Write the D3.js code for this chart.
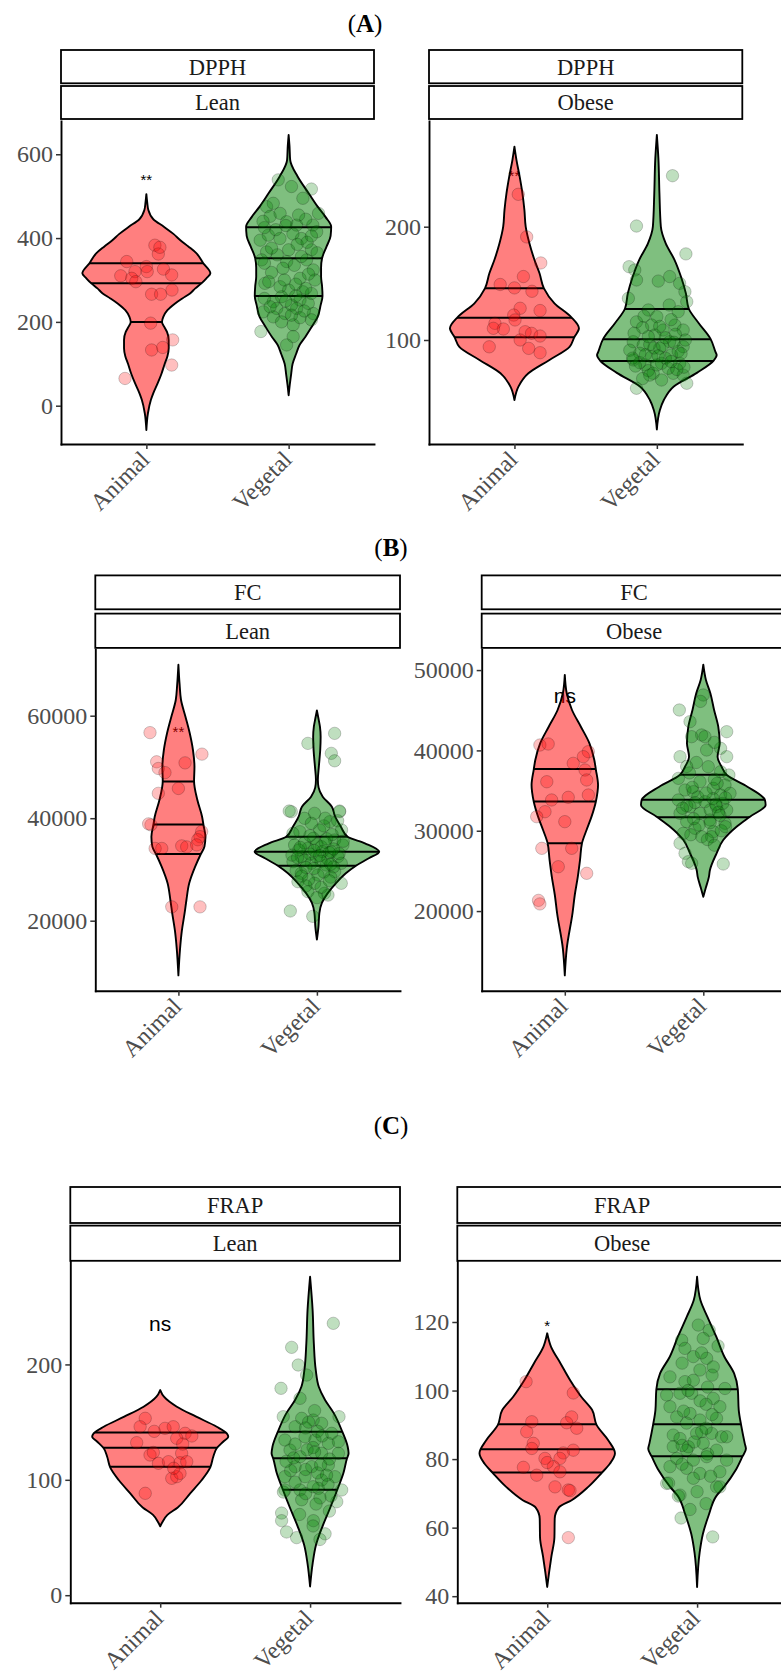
<!DOCTYPE html>
<html><head><meta charset="utf-8">
<script src="https://cdn.jsdelivr.net/npm/d3@7"></script>
<style>body{margin:0;background:#fff}</style>
</head><body>
<svg id="chart" width="781" height="1673"></svg>
<script>
// ---------------- DATA ----------------
const categories = ["Animal", "Vegetal"];
const assays = ["DPPH", "FC", "FRAP"];
const groups = ["Lean", "Obese"];
const panelLetters = ["A", "B", "C"];

const dpphLeanDomain = [-91.4, 679.4],  dpphLeanTicks = [0, 200, 400, 600];
const dpphObeseDomain = [8.2, 293.3],   dpphObeseTicks = [100, 200];
const fcLeanDomain = [6341, 72956],     fcLeanTicks = [20000, 40000, 60000];
const fcObeseDomain = [10086, 52586],   fcObeseTicks = [20000, 30000, 40000, 50000];
const frapLeanDomain = [-6.5, 289.2],   frapLeanTicks = [0, 100, 200];
const frapObeseDomain = [38.1, 137.65], frapObeseTicks = [40, 60, 80, 100, 120];

const sigLabels = [["**", 548], ["**", 247.7], ["**", 57540], ["ns", 46610], ["ns", 233.5], ["*", 119.8]];

const dpphLeanAnimalViolin = [[505,0],[485,0.006],[467,0.014],[445,0.049],[427,0.123],[410,0.19],[395,0.239],[380,0.295],[364,0.351],[340,0.40],[316,0.45],[304,0.422],[292,0.387],[280,0.344],[268,0.307],[256,0.253],[244,0.202],[228,0.148],[212,0.119],[200,0.11],[188,0.126],[176,0.145],[157,0.157],[137,0.157],[118,0.148],[100,0.129],[75,0.105],[53,0.079],[30,0.049],[14,0.032],[-18,0.011],[-58,0]];
const dpphLeanVegetalViolin = [[646,0],[620,0.006],[586,0.011],[547,0.063],[507,0.141],[475,0.204],[450,0.26],[427,0.299],[405,0.295],[380,0.267],[352,0.235],[330,0.228],[308,0.228],[285,0.235],[262,0.238],[240,0.225],[212,0.204],[188,0.162],[164,0.117],[145,0.077],[124,0.053],[100,0.028],[76,0.018],[50,0.008],[25,0]];
const dpphObeseAnimalViolin = [[270.6,0],[259,0.014],[244,0.037],[229.5,0.056],[214.7,0.07],[200,0.079],[185.3,0.105],[170.6,0.141],[158.9,0.176],[145.6,0.207],[132.4,0.281],[120,0.40],[110.3,0.453],[102.4,0.42],[94,0.387],[82.4,0.246],[70.6,0.098],[58.8,0.028],[47,0]];
const dpphObeseVegetalViolin = [[281,0],[260,0.011],[230,0.018],[200,0.028],[185,0.063],[171,0.123],[156,0.169],[141,0.204],[128,0.223],[115,0.293],[101,0.377],[89,0.413],[86.8,0.42],[82,0.40],[71,0.281],[59,0.119],[47,0.049],[38,0.021],[21,0]];
const fcLeanAnimalViolin = [[69950,0],[66000,0.009],[63060,0.019],[59805,0.051],[56560,0.082],[53307,0.105],[50050,0.116],[47260,0.113],[43550,0.137],[40290,0.171],[38670,0.181],[36390,0.195],[34440,0.188],[33010,0.162],[30540,0.121],[27290,0.078],[24040,0.058],[21526,0.045],[18056,0.025],[14566,0.012],[9340,0]];
const fcLeanVegetalViolin = [[61020,0],[59500,0.011],[57855,0.022],[55903,0.027],[53307,0.024],[50050,0.014],[47500,0.007],[46000,0.012],[44195,0.042],[42244,0.108],[40290,0.132],[38340,0.173],[36390,0.222],[35100,0.347],[33460,0.45],[32175,0.375],[30730,0.282],[29250,0.209],[27290,0.137],[25340,0.077],[23500,0.036],[21526,0.018],[18750,0.011],[16300,0]];
const fcObeseAnimalViolin = [[49400,0],[47108,0.014],[45030,0.052],[42950,0.116],[40880,0.178],[38800,0.213],[37650,0.224],[35690,0.24],[33610,0.224],[31750,0.193],[30090,0.157],[28440,0.124],[26360,0.11],[24280,0.094],[22000,0.072],[19773,0.056],[15333,0.014],[12000,0]];
const fcObeseVegetalViolin = [[50670,0],[48764,0.019],[47108,0.051],[45030,0.078],[42950,0.108],[40880,0.118],[39216,0.103],[37970,0.132],[36936,0.17],[35480,0.318],[33826,0.445],[33200,0.45],[31750,0.337],[30500,0.24],[28840,0.144],[27190,0.096],[25110,0.048],[24227,0.04],[22890,0.018],[21773,0]];
const frapLeanAnimalViolin = [[177.8,0],[172,0.025],[163.3,0.111],[154.7,0.24],[146,0.377],[140.3,0.444],[137.3,0.454],[133,0.42],[127.3,0.377],[120,0.354],[110.8,0.334],[99.8,0.277],[88.3,0.2],[76,0.117],[69.6,0.048],[63,0.013],[59.7,0]];
const frapLeanVegetalViolin = [[276,0],[247,0.017],[218.3,0.025],[195,0.038],[180.7,0.058],[169.2,0.1],[157.6,0.159],[141.7,0.215],[128.7,0.251],[123,0.257],[118,0.245],[105.6,0.222],[91.2,0.181],[76,0.135],[59.7,0.083],[43.3,0.039],[27.3,0.017],[7.6,0]];
const frapObeseAnimalViolin = [[116.7,0],[112.8,0.025],[107.9,0.089],[103,0.153],[98.2,0.227],[94.3,0.3],[89.9,0.33],[85.5,0.407],[81.7,0.452],[78.7,0.419],[76,0.364],[71.9,0.274],[68,0.163],[65.9,0.078],[62.6,0.05],[57.1,0.048],[51.6,0.028],[47.1,0.013],[42.7,0]];
const frapObeseVegetalViolin = [[133.2,0],[126.4,0.022],[121.5,0.069],[115.7,0.128],[109.8,0.183],[105,0.247],[100.3,0.272],[94.3,0.278],[89.9,0.294],[84.6,0.318],[83,0.326],[80.7,0.302],[76.8,0.258],[71.9,0.18],[69.2,0.128],[63.7,0.078],[58.2,0.039],[52.7,0.017],[42.7,0]];

const dpphLeanAnimalQuartiles = [200, 292, 340];
const dpphLeanVegetalQuartiles = [262, 352, 426];
const dpphObeseAnimalQuartiles = [102.4, 119.7, 145.6];
const dpphObeseVegetalQuartiles = [81.5, 100.6, 127.4];
const fcLeanAnimalQuartiles = [33020, 38750, 47170];
const fcLeanVegetalQuartiles = [30720, 33440, 36370];
const fcObeseAnimalQuartiles = [28440, 33640, 37690];
const fcObeseVegetalQuartiles = [31690, 33870, 36980];
const frapLeanAnimalQuartiles = [111.4, 127.8, 140.9];
const frapLeanVegetalQuartiles = [91.4, 118.7, 141.6];
const frapObeseAnimalQuartiles = [76.1, 82.9, 90.2];
const frapObeseVegetalQuartiles = [80.8, 90.2, 100.4];

const dpphLeanAnimalPoints = [[383,0.06],[362,0.084],[378,0.095],[344,-0.138],[332,0],[320,0.006],[326,0.12],[312,0.178],[320,-0.08],[310,-0.18],[304,-0.103],[296,-0.074],[266,0.037],[266,0.1],[276,0.18],[197,0.03],[133,0.037],[139,0.115],[157,0.185],[97,0.178],[65,-0.15]];
const dpphLeanVegetalPoints = [[539,-0.073],[517,0.16],[177,-0.195],[523,0.02],[495,0.1],[459,0.21],[475,-0.155],[452,-0.13],[459,-0.06],[439,-0.014],[431,0.056],[431,0.17],[415,0.197],[395,-0.2],[407,-0.143],[399,-0.061],[399,0.09],[372,0.16],[367,-0.155],[372,0],[348,-0.19],[344,-0.014],[348,0.126],[324,0.173],[304,0.08],[292,-0.167],[300,0.185],[276,0],[272,0.1],[248,-0.108],[260,-0.05],[252,0.08],[244,0.138],[232,-0.084],[220,-0.026],[232,0.056],[220,0.173],[224,-0.178],[212,-0.108],[193,0.032],[205,0.16],[165,0.032],[145,-0.014],[483,-0.108],[445,0.12],[420,-0.09],[410,0.03],[385,0.06],[360,-0.08],[335,0.04],[318,-0.12],[290,0.05],[284,-0.06],[268,0.16],[240,0.02],[210,0.08],[200,-0.05],[455,0.07],[425,-0.17],[390,0.13],[340,-0.17],[300,-0.03],[256,-0.17],[430,-0.02],[405,0.16],[376,-0.12],[356,0.09],[328,-0.04],[314,0.14],[296,-0.14],[280,0.12],[262,0.05],[236,-0.13],[226,0.11],[216,0.02],[250,-0.02],[365,0.2],[440,-0.18]];
const dpphObeseAnimalPoints = [[228.6,0.027],[191,0.086],[168,0.185],[149,-0.1],[156,0.063],[146,0],[143,0.123],[128,0.04],[126,0.18],[122,-0.005],[117.7,0.004],[114.7,-0.137],[109.7,-0.078],[110.3,-0.148],[107.3,0.075],[105.9,0.12],[103.5,0.18],[100,0.04],[94,-0.177],[92.6,0.1],[88.8,0.18]];
const dpphObeseVegetalPoints = [[245,0.11],[200.6,-0.143],[176,0.204],[164.7,-0.195],[161.8,-0.155],[150,0.16],[156,0.09],[152,0.01],[142.6,0.197],[153,-0.143],[136.8,-0.2],[133.8,0.21],[126.5,-0.06],[130.9,0.087],[120.6,0],[125,0.15],[116,-0.143],[113.2,-0.037],[113.2,0.127],[108.8,0.185],[108.8,0.044],[104.4,-0.014],[98.5,-0.166],[95.6,-0.096],[98.5,0.09],[94.1,0.185],[92.7,0.02],[88.3,-0.12],[85.3,-0.037],[86.8,0.103],[82.4,-0.166],[78,-0.084],[79.4,0.16],[79.4,0.033],[70.6,-0.026],[70.6,0.115],[69,0.185],[64.7,0.033],[57.4,-0.143],[61.8,0.21],[118,0.1],[111,-0.1],[102,0.06],[96,-0.05],[90,0.15],[84,0.06],[80,-0.12],[75,0.08],[73,-0.06],[66,-0.1],[100,0.2],[91,-0.19],[105,0.13],[87,-0.08],[76,0.19],[112,0.02],[106,-0.16],[98,0.12],[93,-0.02],[88,0.17],[84,-0.17],[81,0.1],[78,0.0],[74,0.14],[69,-0.05],[121,-0.09],[103,-0.06],[95,0.04],[86,0.01],[77,-0.15]];
const fcLeanAnimalPoints = [[56700,-0.205],[52500,0.17],[50800,0.048],[51000,-0.157],[49700,-0.145],[48900,-0.097],[45800,0],[44850,-0.145],[38700,-0.198],[38900,-0.215],[37400,0.168],[36400,0.156],[35800,0.14],[34100,-0.168],[34100,-0.12],[34600,0.024],[34400,0.06],[34800,0.132],[22700,-0.048],[22700,0.156]];
const fcLeanVegetalPoints = [[54600,-0.065],[56550,0.128],[52650,0.104],[51200,0.128],[21900,-0.192],[20850,-0.03],[41270,-0.185],[40950,-0.017],[39320,0.094],[41270,0.164],[39980,-0.089],[37370,-0.123],[37700,0.02],[37700,0.178],[37050,-0.173],[36080,-0.026],[35750,0.128],[34770,-0.161],[34130,-0.065],[34440,0.032],[34770,0.188],[33460,0.104],[32490,-0.113],[32490,-0.004],[32490,0.152],[31510,-0.173],[31200,-0.04],[30870,0.068],[31200,0.176],[29250,-0.113],[28920,0.007],[29560,0.128],[27610,-0.137],[27300,-0.017],[27300,0.176],[25660,-0.065],[25350,0.055],[25000,0.08],[41400,-0.2],[41400,0.164],[36000,0.07],[35200,-0.09],[34900,0.0],[33800,-0.13],[33500,0.04],[33100,0.16],[33000,-0.05],[32000,0.08],[31800,-0.09],[30500,0.12],[30200,-0.02],[29800,-0.15],[28500,0.1],[28000,-0.06],[26500,0.03],[38500,0.05],[39000,-0.04],[36800,0.11],[35500,0.19],[32800,-0.18],[36600,-0.05],[35300,0.06],[34300,-0.12],[34000,0.12],[33700,-0.02],[33300,0.09],[32700,0.02],[32300,-0.14],[31600,0.03],[31000,0.1],[30400,-0.08],[29500,0.05],[28700,-0.11],[27800,0.09],[26800,-0.08],[24500,0.0],[40000,0.06],[39500,0.15]];
const fcObeseAnimalPoints = [[40670,-0.18],[40800,-0.12],[39840,0.17],[39220,0.134],[38390,0.061],[37560,0.146],[36320,0.158],[36100,-0.13],[34450,0.17],[33830,-0.095],[34160,0.025],[32370,-0.143],[31750,-0.203],[31130,0],[27810,0.05],[27810,-0.166],[25520,-0.047],[24700,0.158],[21330,-0.19],[20890,-0.18]];
const fcObeseVegetalPoints = [[45030,-0.173],[43580,-0.096],[41920,-0.012],[41710,0.012],[42330,0.169],[41710,-0.084],[39220,-0.168],[39220,0.169],[40260,0.125],[40050,0.024],[37970,0.036],[37350,0.125],[36940,0.185],[36520,-0.18],[36100,-0.024],[35280,0.072],[35690,0.157],[35070,-0.132],[34860,-0.072],[34450,0.125],[34660,0.193],[33830,-0.18],[33620,0.012],[32990,-0.096],[32990,0.096],[32580,0.169],[32170,-0.168],[32170,-0.024],[31340,0.048],[31130,-0.12],[30930,0.157],[30300,-0.06],[29880,0.072],[29680,-0.144],[29260,-0.012],[29260,0.06],[28440,-0.168],[27190,-0.132],[25950,-0.084],[26150,-0.108],[25860,0.144],[46900,0],[46100,-0.02],[35900,0.1],[34200,-0.04],[33400,0.14],[33100,-0.12],[32600,0.05],[31900,0.12],[30700,-0.03],[30000,0.13],[28900,0.03],[38500,-0.05],[37200,-0.1],[34000,0.07],[35400,-0.08],[34700,0.02],[34100,0.16],[33500,-0.06],[33300,0.09],[32800,-0.15],[32300,0.11],[31500,-0.07],[31000,0.05],[30500,0.16],[29500,-0.09],[28200,0.08],[36400,0.08],[38000,-0.12],[41000,0.08]];
const frapLeanAnimalPoints = [[153.3,-0.1],[146,-0.134],[144.6,0.032],[146,0.087],[140.3,0.166],[138,0.211],[132.2,-0.157],[136,0.11],[121.5,-0.068],[123,0.143],[114.3,-0.012],[115.7,0.055],[114.8,0.132],[115.7,0.177],[101.3,0.077],[102.7,0.11],[105.6,0.132],[88.3,-0.1],[142,-0.04],[123.7,-0.046],[131,0.15],[110,0.09]];
const frapLeanVegetalPoints = [[235.6,0.155],[214.8,-0.123],[199.5,-0.079],[190.8,-0.023],[179.3,-0.194],[170.6,-0.067],[154.7,-0.179],[154.7,0.193],[153.3,-0.056],[151.8,0.021],[146,-0.1],[149,0.077],[140.3,0.144],[134.5,-0.168],[137.3,-0.034],[134.5,0.033],[131.6,0.122],[133,0.189],[125.8,-0.134],[120,-0.067],[123,0.077],[123,0.189],[111.4,-0.1],[111.4,0.011],[112.8,0.122],[102.7,-0.168],[102.7,-0.034],[99.8,0.077],[102.7,0.166],[91.2,-0.168],[91.2,-0.067],[92.6,0.055],[91.2,0.211],[89.4,-0.178],[82.7,-0.056],[84.3,0.066],[81,0.178],[71.2,-0.19],[64.6,-0.19],[72.9,0.129],[64.6,0.022],[54.8,-0.157],[49.9,-0.09],[53.2,0.1],[48.3,0.066],[142,0.05],[128,0.02],[118,0.13],[108,-0.13],[96,0.12],[126,-0.02],[145,-0.03],[116,-0.16],[106,0.05],[86,0.14],[150,-0.01],[138,0.08],[131,-0.1],[124,0.03],[119,-0.11],[113,0.07],[109,-0.03],[104,0.11],[98,-0.1],[94,0.02],[88,-0.03],[79,0.04],[70,-0.07],[60,0.02],[160,0.03]];
const frapObeseAnimalPoints = [[102.6,-0.141],[99.3,0.174],[92.3,0.163],[90.6,0.13],[89,0.197],[90.9,-0.103],[88,-0.137],[84.6,-0.093],[83.1,-0.103],[82.6,0.174],[81.8,0.107],[80.2,0.085],[80.2,-0.015],[77.8,0.041],[77.6,-0.159],[75.3,-0.07],[76.3,0.085],[71.9,0.052],[71,0.141],[57.1,0.141],[70.8,0.152],[79,0.0]];
const frapObeseVegetalPoints = [[117.6,0.081],[114.7,-0.103],[119.1,0.008],[115.2,0.041],[112.3,-0.081],[109.9,-0.025],[109.4,0.064],[106,0.019],[106.9,0.108],[104,-0.181],[102.6,-0.081],[103,-0.025],[100.6,0.186],[98.7,-0.203],[99.2,-0.114],[99.2,-0.036],[97.7,0.108],[95.3,0.152],[95.3,-0.181],[93.3,-0.047],[92.3,-0.136],[91.4,0.019],[91.9,0.13],[87,-0.159],[86,-0.114],[87.5,-0.003],[87.5,0.097],[86.5,0.164],[86.5,0.197],[83.6,-0.058],[82.6,-0.07],[83.6,-0.159],[84.6,0.041],[82.6,0.13],[80.2,-0.136],[79.7,-0.025],[80.7,0.064],[79.7,0.197],[77.8,-0.181],[77.3,-0.07],[75.8,0.019],[76.3,0.152],[72.9,-0.203],[74.4,-0.025],[71.9,0.13],[69.5,-0.114],[69.2,-0.125],[65.3,-0.047],[62.8,-0.107],[57.3,0.104],[73,-0.19],[71.9,0.152],[96,0.06],[89,0.06],[85,-0.02],[101,0.07],[94,-0.09],[111,0.03],[108,-0.1],[104.5,0.1],[100,-0.06],[97,0.02],[93,0.1],[90.5,-0.07],[88,0.03],[84,-0.1],[81.5,0.07],[78.5,-0.1],[75,0.09],[70.5,0.0],[67,0.06],[113,0.14]];

// ---------------- LAYOUT ----------------
const rows = [
  {lx: 365, ly: 32,   s1: [50, 83.3],    s2: [86, 119],       top: 121,    bot: 444,   cols: [[61, 374], [429, 742.3]]},
  {lx: 391, ly: 556,  s1: [575.4, 609.3], s2: [613.6, 647.9], top: 649.3,  bot: 990.7, cols: [[95.3, 400], [481.7, 786.4]]},
  {lx: 391, ly: 1134, s1: [1187, 1223],   s2: [1225.6, 1260.8], top: 1261.5, bot: 1602.7, cols: [[70.3, 400], [457.3, 787]]}
];

const panels = [
  {r:0,c:0,domain:dpphLeanDomain,ticks:dpphLeanTicks,v:[dpphLeanAnimalViolin,dpphLeanVegetalViolin],q:[dpphLeanAnimalQuartiles,dpphLeanVegetalQuartiles],p:[dpphLeanAnimalPoints,dpphLeanVegetalPoints]},
  {r:0,c:1,domain:dpphObeseDomain,ticks:dpphObeseTicks,v:[dpphObeseAnimalViolin,dpphObeseVegetalViolin],q:[dpphObeseAnimalQuartiles,dpphObeseVegetalQuartiles],p:[dpphObeseAnimalPoints,dpphObeseVegetalPoints]},
  {r:1,c:0,domain:fcLeanDomain,ticks:fcLeanTicks,v:[fcLeanAnimalViolin,fcLeanVegetalViolin],q:[fcLeanAnimalQuartiles,fcLeanVegetalQuartiles],p:[fcLeanAnimalPoints,fcLeanVegetalPoints]},
  {r:1,c:1,domain:fcObeseDomain,ticks:fcObeseTicks,v:[fcObeseAnimalViolin,fcObeseVegetalViolin],q:[fcObeseAnimalQuartiles,fcObeseVegetalQuartiles],p:[fcObeseAnimalPoints,fcObeseVegetalPoints]},
  {r:2,c:0,domain:frapLeanDomain,ticks:frapLeanTicks,v:[frapLeanAnimalViolin,frapLeanVegetalViolin],q:[frapLeanAnimalQuartiles,frapLeanVegetalQuartiles],p:[frapLeanAnimalPoints,frapLeanVegetalPoints]},
  {r:2,c:1,domain:frapObeseDomain,ticks:frapObeseTicks,v:[frapObeseAnimalViolin,frapObeseVegetalViolin],q:[frapObeseAnimalQuartiles,frapObeseVegetalQuartiles],p:[frapObeseAnimalPoints,frapObeseVegetalPoints]}
];

const serif = "Liberation Serif, Times New Roman, serif";
const sans = "Liberation Sans, Arial, sans-serif";
const fillCol = ["rgba(255,0,0,0.5)", "rgba(0,128,0,0.5)"];
const ptCol = ["rgba(255,0,0,0.25)", "rgba(0,128,0,0.25)"];

const svg = d3.select("#chart");
svg.append("rect").attr("width", 781).attr("height", 1673).attr("fill", "#fff");
const defs = svg.append("defs");

rows.forEach((rw, i) => {
  const t = svg.append("text").attr("x", rw.lx).attr("y", rw.ly).attr("text-anchor", "middle")
    .style("font-family", serif).style("font-size", "25px").attr("fill", "#000");
  t.append("tspan").text("(");
  t.append("tspan").attr("font-weight", "bold").text(panelLetters[i]);
  t.append("tspan").text(")");
});

panels.forEach((pd, idx) => {
  const rw = rows[pd.r];
  const [x0, x1] = rw.cols[pd.c];
  const g = svg.append("g");
  const x = d3.scalePoint().domain(categories).range([x0, x1]).padding(0.6);
  const step = x.step();
  const y = d3.scaleLinear().domain(pd.domain).range([rw.bot, rw.top]);

  const stripTexts = [assays[pd.r], groups[pd.c]];
  [rw.s1, rw.s2].forEach((s, k) => {
    g.append("rect").attr("x", x0).attr("y", s[0]).attr("width", x1 - x0).attr("height", s[1] - s[0])
      .attr("fill", "#fff").attr("stroke", "#000").attr("stroke-width", 1.8);
    g.append("text").attr("x", (x0 + x1) / 2).attr("y", (s[0] + s[1]) / 2).attr("dy", "0.35em")
      .attr("text-anchor", "middle").style("font-family", serif).style("font-size", "22.5px")
      .attr("fill", "#1a1a1a").text(stripTexts[k]);
  });

  const clipId = "clip" + idx;
  defs.append("clipPath").attr("id", clipId).append("rect")
    .attr("x", x0).attr("y", rw.top).attr("width", x1 - x0).attr("height", rw.bot - rw.top);
  const pg = g.append("g").attr("clip-path", `url(#${clipId})`);

  // significance label, drawn beneath the violins
  const [lab, lv] = sigLabels[idx];
  const fs = lab === "ns" ? 21 : 15;
  const off = lab === "ns" ? 0.26 : 0.58;
  pg.append("text").attr("x", x("Animal")).attr("y", y(lv) + off * fs).attr("text-anchor", "middle")
    .style("font-family", sans).style("font-size", fs + "px").attr("fill", "#000").text(lab);

  categories.forEach((cat, ci) => {
    const cx = x(cat);
    const area = d3.area().curve(d3.curveMonotoneY)
      .y(d => y(d[0])).x0(d => cx - d[1] * step).x1(d => cx + d[1] * step);
    const dPath = area(pd.v[ci]);
    const vid = `v${idx}_${ci}`;
    defs.append("clipPath").attr("id", vid).append("path").attr("d", dPath);
    pg.append("path").attr("d", dPath).attr("fill", fillCol[ci]).attr("stroke", "none");
    pg.append("g").attr("clip-path", `url(#${vid})`).selectAll("line").data(pd.q[ci]).join("line")
      .attr("x1", cx - 0.5 * step).attr("x2", cx + 0.5 * step)
      .attr("y1", d => y(d)).attr("y2", d => y(d))
      .attr("stroke", "#000").attr("stroke-width", 2);
    pg.append("path").attr("d", dPath).attr("fill", "none").attr("stroke", "#000")
      .attr("stroke-width", 1.9).attr("stroke-linejoin", "round");
  });

  categories.forEach((cat, ci) => {
    const cx = x(cat);
    pg.append("g").selectAll("circle").data(pd.p[ci]).join("circle")
      .attr("cx", d => cx + d[1] * step).attr("cy", d => y(d[0])).attr("r", 6.2)
      .attr("fill", ptCol[ci]).attr("stroke", "rgba(0,0,0,0.2)").attr("stroke-width", 1);
  });

  const ya = g.append("g").attr("transform", `translate(${x0},0)`)
    .call(d3.axisLeft(y).tickValues(pd.ticks).tickFormat(d3.format("d")).tickSize(5).tickSizeOuter(0).tickPadding(3));
  const xa = g.append("g").attr("transform", `translate(0,${rw.bot})`)
    .call(d3.axisBottom(x).tickSize(5).tickSizeOuter(0));
  [ya, xa].forEach(a => {
    a.attr("font-family", null).attr("font-size", null);
    a.select(".domain").attr("stroke", "#000").attr("stroke-width", 1.9).attr("stroke-linecap", "square");
    a.selectAll(".tick line").attr("stroke", "#333").attr("stroke-width", 1.5);
    a.selectAll("text").style("font-family", serif).style("font-size", "24px").attr("fill", "#4d4d4d");
  });
  xa.selectAll(".tick text").attr("x", 0).attr("y", 0).attr("dy", 0)
    .attr("text-anchor", "end").attr("transform", "translate(4,17) rotate(-45)");
});
</script>
</body></html>
